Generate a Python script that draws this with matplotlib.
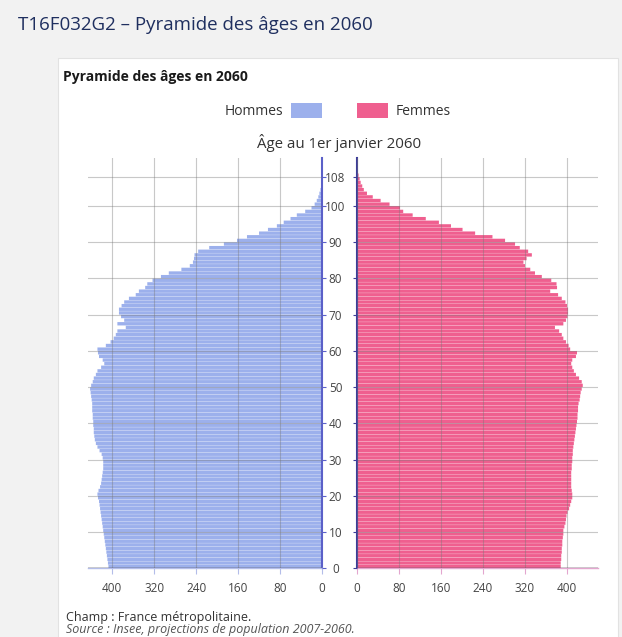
import matplotlib
matplotlib.use("Agg")
import matplotlib.pyplot as plt
from matplotlib.patches import Rectangle
import numpy as np

plt.rcParams['font.family'] = ['Open Sans', 'DejaVu Sans']

# Données (milliers de personnes, âges 0 à 108)
ages = np.arange(109)
hommes = [
    407, 408, 409, 410, 411, 412, 413, 414, 415, 416,   # 0-9
    417, 418, 419, 420, 421, 422, 423, 424, 425, 427,   # 10-19
    428, 426, 423, 421, 420, 419, 418, 417, 417, 417,   # 20-29
    418, 420, 424, 428, 431, 433, 434, 435, 435, 436,   # 30-39
    436, 437, 437, 438, 438, 438, 439, 440, 441, 442,   # 40-49
    440, 437, 435, 431, 428, 421, 415, 418, 425, 427,   # 50-59
    428, 412, 403, 397, 393, 390, 374, 390, 377, 383,   # 60-69
    387, 387, 382, 377, 368, 355, 349, 337, 333, 323,   # 70-79
    307, 292, 268, 252, 246, 244, 243, 236, 215, 187,   # 80-89
    162, 143, 120, 103, 86, 73, 60, 48, 32, 20,         # 90-99
    14, 10, 7, 5, 3, 1, 0, 0, 0,                        # 100-108
]
femmes = [
    388, 388, 389, 389, 390, 390, 391, 391, 392, 393,   # 0-9
    393, 395, 397, 398, 399, 401, 404, 406, 408, 410,   # 10-19
    410, 409, 408, 408, 408, 408, 408, 409, 409, 410,   # 20-29
    410, 411, 411, 412, 413, 414, 415, 416, 417, 418,   # 30-39
    419, 420, 420, 421, 421, 422, 424, 425, 426, 428,   # 40-49
    430, 428, 423, 417, 413, 410, 408, 410, 417, 419,   # 50-59
    406, 403, 398, 393, 390, 385, 377, 393, 398, 401,   # 60-69
    402, 402, 400, 397, 390, 383, 368, 381, 380, 370,   # 70-79
    352, 339, 330, 320, 317, 323, 333, 326, 310, 301,   # 80-89
    282, 258, 225, 201, 179, 156, 131, 106, 88, 82,     # 90-99
    62, 45, 30, 19, 13, 10, 7, 5, 3,                    # 100-108
]
graduations_x = [0, 80, 160, 240, 320, 400]
graduations_age = [0, 10, 20, 30, 40, 50, 60, 70, 80, 90, 100, 108]

couleur_h = '#9cb0ec'
couleur_f = '#ef5f8f'
gris_texte = '#444444'

W, H = 622, 637
fig = plt.figure(figsize=(W / 100, H / 100), dpi=100, facecolor='#f2f2f2')

# carte blanche (derrière les axes)
fig.patches.append(Rectangle((58 / W, -0.01), (618 - 58) / W, 1.01 - 58 / H,
                             transform=fig.transFigure, facecolor='white',
                             edgecolor='#e2e2e2', linewidth=0.8, zorder=-10))

fig.text(18 / W, 1 - 25 / H, "T16F032G2 – Pyramide des âges en 2060",
         fontsize=13.5, color='#1f2f5f', va='center', ha='left')
fig.text(63 / W, 1 - 77 / H, "Pyramide des âges en 2060",
         fontsize=10, fontweight='bold', color='#1a1a1a', va='center', ha='left')
fig.text(339 / W, 1 - 143 / H, "Âge au 1er janvier 2060",
         fontsize=10.8, color='#333333', va='center', ha='center')

bas = (H - 568.3) / H
haut = (568.3 - 158) / H
ax_h = fig.add_axes([88 / W, bas, (322 - 88) / W, haut])
ax_f = fig.add_axes([357 / W, bas, (598 - 357) / W, haut])

barres_h = ax_h.barh(ages, hommes, height=0.93, align='edge', color=couleur_h,
                     linewidth=0, label='Hommes')
barres_f = ax_f.barh(ages, femmes, height=0.93, align='edge', color=couleur_f,
                     linewidth=0, label='Femmes')
# pas d'accrochage aux pixels : fines lignes claires entre les barres
for b in list(barres_h) + list(barres_f):
    b.set_snap(False)

ax_h.set_xlim(446, 0)
ax_f.set_xlim(0, 459)

for ax, bas_col in [(ax_h, '#b4bde9'), (ax_f, '#e3a6cf')]:
    ax.set_ylim(0, 113.2)
    ax.set_facecolor('none')
    ax.set_xticks(graduations_x)
    ax.set_xticklabels([str(v) for v in graduations_x])
    ax.set_yticks(graduations_age)
    ax.tick_params(axis='x', direction='out', length=4, width=0.8, color=bas_col,
                   labelsize=8.5, labelcolor=gris_texte, pad=6)
    ax.spines['top'].set_visible(False)
    ax.spines['bottom'].set_color(bas_col)
    ax.spines['bottom'].set_linewidth(1)
    ax.set_axisbelow(False)
    ax.grid(True, color='#777777', alpha=0.4, linewidth=0.8)
    ax.axhline(0, color='#333333', linewidth=1, zorder=3)

ax_h.spines['left'].set_visible(False)
ax_h.spines['right'].set_color('#5b60c9')
ax_h.spines['right'].set_linewidth(1.5)
ax_h.yaxis.tick_right()
ax_h.tick_params(axis='y', direction='out', length=3, color='#5b60c9', labelright=False)

ax_f.spines['right'].set_visible(False)
ax_f.spines['left'].set_color('#3c3c9a')
ax_f.spines['left'].set_linewidth(1.5)
ax_f.tick_params(axis='y', direction='out', length=3, color='#3c3c9a',
                 labelsize=8.5, labelcolor=gris_texte, pad=12.5)
ax_f.set_yticklabels([str(a) for a in graduations_age])
for lab in ax_f.get_yticklabels():
    lab.set_horizontalalignment('center')

# légende
fig.legend(handles=[barres_h], loc='center right', bbox_to_anchor=(322 / W, 1 - 111 / H),
           frameon=False, markerfirst=False, fontsize=10, labelcolor='#333333',
           handlelength=2.2, handleheight=1.3, handletextpad=0.6, borderpad=0,
           borderaxespad=0)
fig.legend(handles=[barres_f], loc='center left', bbox_to_anchor=(357 / W, 1 - 111 / H),
           frameon=False, fontsize=10, labelcolor='#333333',
           handlelength=2.2, handleheight=1.3, handletextpad=0.6, borderpad=0,
           borderaxespad=0)

fig.text(66 / W, 1 - 617 / H, "Champ : France métropolitaine.",
         fontsize=9, color='#333333', va='center', ha='left')
fig.text(66 / W, 1 - 630 / H, "Source : Insee, projections de population 2007-2060.",
         fontsize=9, style='italic', color='#555555', va='center', ha='left')

fig.savefig('out.png', dpi=100, facecolor=fig.get_facecolor())
